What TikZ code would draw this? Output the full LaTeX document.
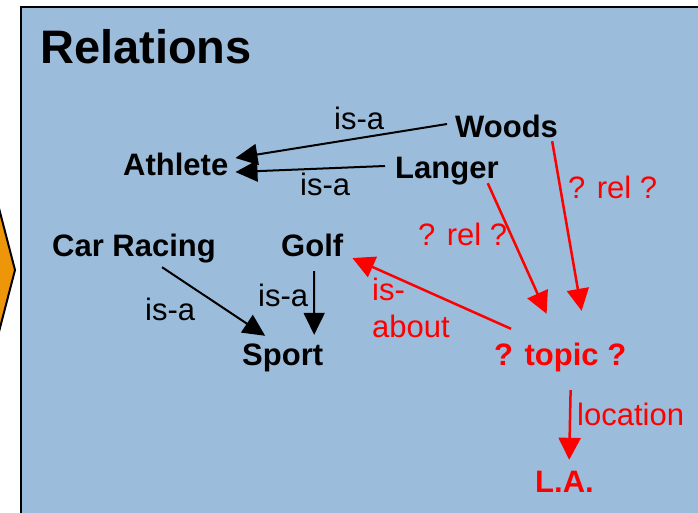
\documentclass[tikz,border=0pt]{standalone}
\usepackage{fontspec}
\setmainfont{Liberation Sans}
\usetikzlibrary{arrows.meta,calc}

\definecolor{panelblue}{RGB}{155,189,219}
\definecolor{arroworange}{RGB}{238,150,10}
\definecolor{relred}{RGB}{255,0,0}

\tikzset{
  concept/.style={inner sep=0pt, anchor=base west, text height=22pt, text depth=6pt,
    font=\fontsize{31}{37}\selectfont\bfseries},
  lbl/.style={inner sep=0pt, anchor=base west, font=\fontsize{31}{37}\selectfont},
  isa/.style={draw=black, line width=2pt, -{Triangle[length=22pt,width=21pt]}},
  relarrow/.style={draw=relred, line width=2.5pt, -{Triangle[length=22pt,width=22pt]}},
}

\begin{document}
\begin{tikzpicture}[x=1pt,y=-1pt]
  \useasboundingbox (0,0) rectangle (698,512);
  \clip (0,0) rectangle (698,512);

  % arrow shape peeking in from the left
  \filldraw[fill=arroworange, draw=black, line width=2pt]
    (-12,166) -- (15,270) -- (-12,374) -- cycle;

  % panel
  \filldraw[fill=panelblue, draw=black, line width=2.5pt]
    (21,7) rectangle (740,540);

  % title
  \node[lbl, font=\fontsize{47}{56}\selectfont\bfseries] (title) at (40,63) {Relations};

  % concepts
  \node[concept] (woods)   at (455,137) {Woods};
  \node[concept] (langer)  at (395,178) {Langer};
  \node[concept] (athlete) at (123,175) {Athlete};
  \node[concept] (racing)  at (52,256)  {Car Racing};
  \node[concept] (golf)    at (281,256) {Golf};
  \node[concept] (sport)   at (242,365) {Sport};
  \node[concept, text=relred] (topic) at (494,365) {? topic ?};
  \node[concept, text=relred] (la)    at (535,492) {L.A.};

  % is-a links
  \draw[isa] ($(woods.west)+(-8,-5)$)   -- ($(athlete.east)+(7,-9)$);
  \draw[isa] ($(langer.west)+(-10,-4)$) -- ($(athlete.east)+(7,5)$);
  \draw[isa] ($(racing.south)+(28,5)$)  -- ($(sport.north)+(-17.5,-7)$);
  \draw[isa] ($(golf.south)+(2,9)$)     -- ($(sport.north)+(31.5,-8)$);

  % unknown relations
  \draw[relarrow] ($(langer.south east)+(-11,-1)$) -- ($(topic.north)+(-13.6,-29)$);
  \draw[relarrow] ($(woods.south east)+(-6,-2)$)   -- ($(topic.north)+(21.4,-32)$);
  \draw[relarrow] ($(topic.north west)+(17,-14)$)  -- ($(golf.east)+(9,10)$);
  \draw[relarrow] ($(topic.south)+(10.4,19)$)      -- ($(la.north)+(4.7,-10)$);

  % link labels
  \node[lbl] (isa1) at (334,129) {is-a};
  \node[lbl] (isa2) at (300,195) {is-a};
  \node[lbl] (isa3) at (145,320) {is-a};
  \node[lbl] (isa4) at (258,306) {is-a};
  \node[lbl, text=relred] (rel1) at (568,198) {? rel ?};
  \node[lbl, text=relred] (rel2) at (418,245) {? rel ?};
  \node[lbl, text=relred] (about1) at (372,300) {is-};
  \node[lbl, text=relred] (about2) at (372,337) {about};
  \node[lbl, text=relred] (loc) at (577,425) {location};
\end{tikzpicture}
\end{document}
